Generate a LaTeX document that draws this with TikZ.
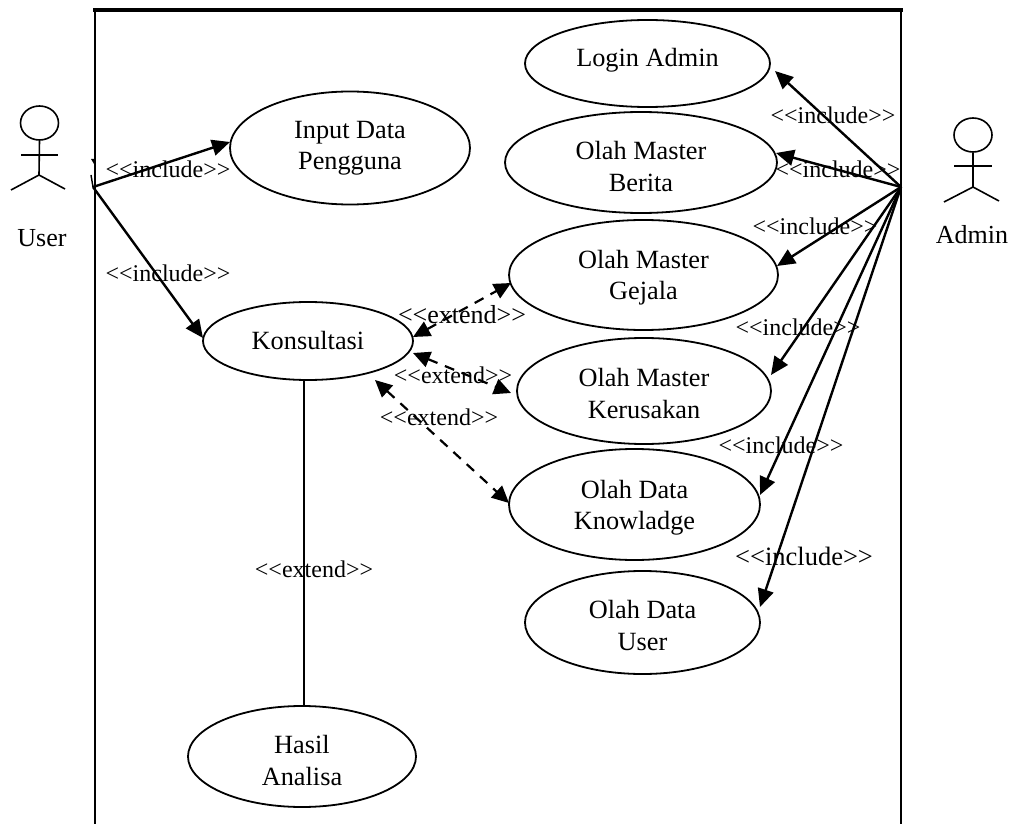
\documentclass[tikz,border=0pt]{standalone}
\usepackage{fontspec}
\setmainfont{Liberation Serif}
\usetikzlibrary{shapes.geometric,arrows.meta}
\newcommand{\fs}[2][31.5]{\fontsize{#2}{#1}\selectfont}
\newcommand{\dn}[1]{\rule{0pt}{#1pt}}
\tikzset{
  x=1pt,y=-1pt,
  usecase/.style={draw,ellipse,line width=1.8pt,inner sep=0pt,outer sep=0pt,align=center,font=\fs{26.3}},
  lab/.style={inner sep=0pt,font=\fs{24}},
  actorname/.style={inner sep=0pt,font=\fs{26}},
  head/.style={draw,ellipse,line width=1.6pt,inner sep=0pt,minimum width=38pt,minimum height=34pt},
  assoc/.style={line width=2.4pt,-{Triangle[length=18pt,width=16pt]}},
  ext/.style={line width=2.2pt,dash pattern=on 10pt off 8pt,{Triangle[length=17pt,width=16pt]}-{Triangle[length=17pt,width=16pt]}},
  stick/.style={line width=1.6pt},
  plain/.style={line width=1.6pt}
}
\begin{document}
\begin{tikzpicture}
\useasboundingbox (0,0) rectangle (1013,824);
% system boundary
\coordinate (boxTL) at (95,10); \coordinate (boxTR) at (901,10);
\coordinate (boxBL) at (95,824); \coordinate (boxBR) at (901,824);
\draw[line width=2.4pt] (boxBL) -- (boxTL);
\draw[line width=2.4pt] (boxBR) -- (boxTR);
\draw[line width=3.2pt,line cap=rect] (boxTL) -- (boxTR);
% use cases
\node[usecase,minimum width=245pt,minimum height=87pt] (login) at (647.5,63.5) {\raisebox{12pt}{Login Admin}};
\node[usecase,minimum width=272pt,minimum height=101pt] (berita) at (641,162.5) {\dn{26}Olah Master\\Berita};
\node[usecase,minimum width=269pt,minimum height=110pt] (gejala) at (643.5,275) {\dn{24}Olah Master\\Gejala};
\node[usecase,minimum width=254pt,minimum height=106pt] (kerusakan) at (644,391) {\dn{23}Olah Master\\Kerusakan};
\node[usecase,minimum width=251pt,minimum height=111pt] (knowladge) at (634.5,504.5) {\dn{25}Olah Data\\Knowladge};
\node[usecase,minimum width=235pt,minimum height=103pt] (datauser) at (642.5,622.5) {\dn{24}Olah Data\\User};
\node[usecase,minimum width=240pt,minimum height=113pt] (input) at (350,148) {Input Data\\Pengguna};
\node[usecase,minimum width=210pt,minimum height=78pt] (konsultasi) at (308,341) {Konsultasi};
\node[usecase,minimum width=228pt,minimum height=101pt] (hasil) at (302,756.5) {\dn{26}Hasil\\Analisa};
% actors
\node[head] (userhead) at (39.5,123) {};
\coordinate (userhip) at (39,175);
\draw[stick] (userhead.south) -- (userhip);
\coordinate (userarmL) at (21,155); \coordinate (userarmR) at (58,155);
\draw[stick] (userarmL) -- (userarmR);
\coordinate (userlegL) at (11,190); \coordinate (userlegR) at (65,189);
\draw[stick] (userlegL) -- (userhip) -- (userlegR);
\node[actorname] (username) at (42,238) {User};
\node[head] (adminhead) at (973,135) {};
\coordinate (adminhip) at (973,187);
\draw[stick] (adminhead.south) -- (adminhip);
\coordinate (adminarmL) at (954,166); \coordinate (adminarmR) at (992,166);
\draw[stick] (adminarmL) -- (adminarmR);
\coordinate (adminlegL) at (944,202); \coordinate (adminlegR) at (999,201);
\draw[stick] (adminlegL) -- (adminhip) -- (adminlegR);
\node[actorname] (adminname) at (972,235) {Admin};
% hubs on the boundary
\coordinate (userhub) at (93,187);
\coordinate (adminhub) at (901,187);
\coordinate (tickA) at (91,175);
\coordinate (tickB) at (91,159); \coordinate (tickC) at (95,159); \coordinate (tickD) at (94,164);
\draw[line width=1.4pt] (tickA) -- (userhub);
\fill (tickB) -- (tickC) -- (tickD) -- cycle;
% tips
\coordinate (tipinput) at (230,142);
\coordinate (tipkons) at (203,338);
\coordinate (tiplogin) at (775,71);
\coordinate (tipberita) at (776,153);
\coordinate (tipgejala) at (777,266);
\coordinate (tipker) at (771,375);
\coordinate (tipknow) at (760,495);
\coordinate (tipuser) at (760,607);
\draw[assoc] (userhub) -- (tipinput);
\draw[assoc] (userhub) -- (tipkons);
\draw[assoc] (adminhub) -- (tiplogin);
\draw[assoc] (adminhub) -- (tipberita);
\draw[assoc] (adminhub) -- (tipgejala);
\draw[assoc] (adminhub) -- (tipker);
\draw[assoc] (adminhub) -- (tipknow);
\draw[assoc] (adminhub) -- (tipuser);
% extends
\coordinate (e1a) at (413,337); \coordinate (e1b) at (511,283);
\coordinate (e2a) at (413,353); \coordinate (e2b) at (511,393);
\coordinate (e3a) at (375,380); \coordinate (e3b) at (509,503);
\draw[ext] (e1a) -- (e1b);
\draw[ext] (e2a) -- (e2b);
\draw[ext] (e3a) -- (e3b);
\coordinate (lineTop) at (304,380);
\draw[plain] (lineTop) -- (lineTop |- hasil.north);
% labels
\node[lab] (l1) at (168,169) {<{}<include>{}>};
\node[lab] (l2) at (168,273) {<{}<include>{}>};
\node[lab] (l3) at (833,115) {<{}<include>{}>};
\node[lab] (l4) at (838,169) {<{}<include>{}>};
\node[lab] (l5) at (815,226) {<{}<include>{}>};
\node[lab] (l6) at (798,327) {<{}<include>{}>};
\node[lab] (l7) at (781,445) {<{}<include>{}>};
\node[lab,font=\fs{26.5}] (l8) at (804,556) {<{}<include>{}>};
\node[lab,font=\fs{26}] (l9) at (462,315) {<{}<extend>{}>};
\node[lab] (l10) at (453,375) {<{}<extend>{}>};
\node[lab] (l11) at (439,417) {<{}<extend>{}>};
\node[lab] (l12) at (314,569) {<{}<extend>{}>};
\end{tikzpicture}
\end{document}
